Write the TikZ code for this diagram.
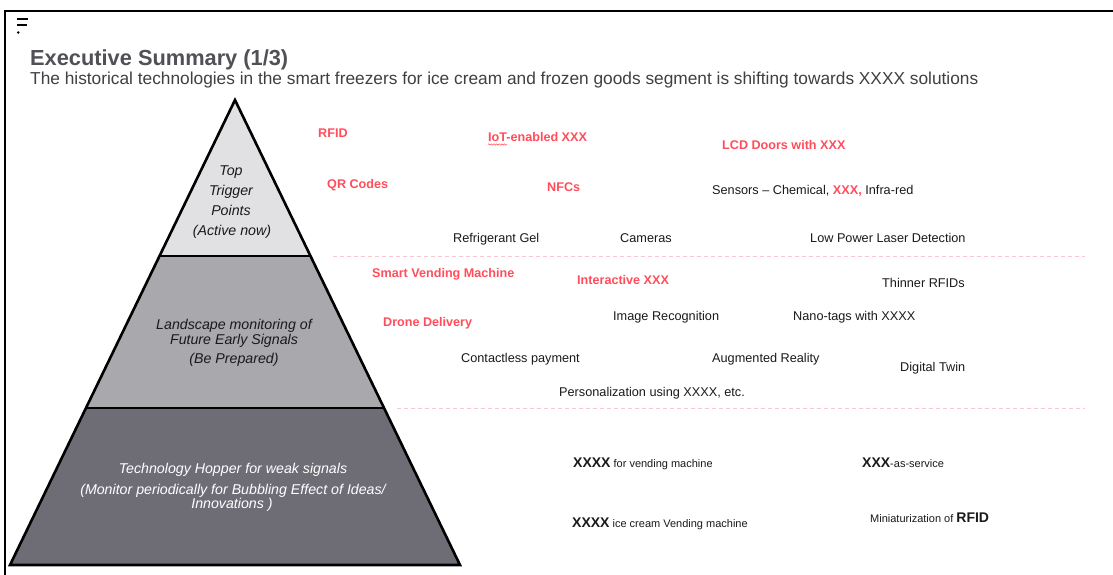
\documentclass[tikz,border=0pt]{standalone}
\usepackage{fontspec}
\setmainfont{Liberation Sans}
\usetikzlibrary{decorations.pathmorphing}
\definecolor{accent}{HTML}{FF4D5B}
\definecolor{ink}{HTML}{1A1A1A}
\definecolor{titlegray}{HTML}{505056}
\definecolor{subgray}{HTML}{404044}
\definecolor{tierA}{HTML}{E1E1E3}
\definecolor{tierB}{HTML}{A9A8AD}
\definecolor{tierC}{HTML}{6E6D76}
\definecolor{divider}{HTML}{F8C8D2}
\tikzset{
  item/.style={anchor=base west, inner sep=0pt, text=ink, font=\fontsize{12.7}{15}\selectfont},
  hot/.style={anchor=base west, inner sep=0pt, text=accent, font=\fontsize{12.6}{15}\selectfont\bfseries},
  small/.style={anchor=base west, inner sep=0pt, text=ink, font=\fontsize{11}{13}\selectfont},
  tierlabel/.style={anchor=base, inner sep=0pt, font=\fontsize{14.2}{17}\selectfont\itshape},
  tieredge/.style={line width=2.6pt, line join=miter},
  sepline/.style={divider, line width=0.8pt, dash pattern=on 4pt off 3pt},
}
\newcommand{\bigX}[1]{{\fontsize{14}{16}\selectfont\bfseries #1}}
\begin{document}
\begin{tikzpicture}[x=1pt,y=-1pt]
\useasboundingbox (0,0) rectangle (1113,575);
\fill[white] (0,0) rectangle (1113,575);

% slide frame
\draw[line width=2pt] (5,575) -- (5,11) -- (1113,11);

% menu glyph
\draw[line width=2pt] (17,19) -- (28,19);
\draw[line width=2pt] (17,25.5) -- (27,25.5);
\fill (18.2,32.5) circle (1.4);

% heading
\node[anchor=base west, inner sep=0pt, text=titlegray, font=\fontsize{21.8}{24}\selectfont\bfseries] (title) at (30,66) {Executive Summary (1/3)};
\node[anchor=base west, inner sep=0pt, text=subgray, font=\fontsize{17.3}{20}\selectfont] (subtitle) at (30,85) {The historical technologies in the smart freezers for ice cream and frozen goods segment is shifting towards XXXX solutions};

% pyramid geometry
\coordinate (apex) at (235,100);
\coordinate (bl) at (10,565);
\coordinate (br) at (460,565);
\coordinate (m1l) at (159.5,256);
\coordinate (m1r) at (310.5,256);
\coordinate (m2l) at (86,408);
\coordinate (m2r) at (384,408);

\fill[tierC] (m2l) -- (m2r) -- (br) -- (bl) -- cycle;
\fill[tierB] (m1l) -- (m1r) -- (m2r) -- (m2l) -- cycle;
\fill[tierA] (apex) -- (m1r) -- (m1l) -- cycle;
\draw[tieredge] (m1l) -- (m1r);
\draw[tieredge] (m2l) -- (m2r);
\draw[tieredge] (apex) -- (br) -- (bl) -- cycle;

% tier labels
\node[tierlabel, text=ink] (t1a) at (231,175) {Top};
\node[tierlabel, text=ink] (t1b) at (231,195) {Trigger};
\node[tierlabel, text=ink] (t1c) at (231,215) {Points};
\node[tierlabel, text=ink] (t1d) at (232,235) {(Active now)};
\node[tierlabel, text=ink] (t2a) at (234,329) {Landscape monitoring of};
\node[tierlabel, text=ink] (t2b) at (234,344) {Future Early Signals};
\node[tierlabel, text=ink] (t2c) at (234,363) {(Be Prepared)};
\node[tierlabel, text=white] (t3a) at (233,473) {Technology Hopper for weak signals};
\node[tierlabel, text=white] (t3b) at (233,494) {(Monitor periodically for Bubbling Effect of Ideas/};
\node[tierlabel, text=white] (t3c) at (232,508) {Innovations )};

% tier separators
\coordinate (s1a) at (333,256);
\coordinate (s1b) at (1085,256);
\coordinate (s2a) at (397,408);
\coordinate (s2b) at (1085,408);
\draw[sepline] (s1a) -- (s1b);
\draw[sepline] (s2a) -- (s2b);

% tier 1 entries
\node[hot] (rfid) at (318,137.5) {RFID};
\node[hot] (iot) at (488,141.5) {IoT-enabled XXX};
\draw[accent, line width=0.5pt, decorate, decoration={snake, amplitude=0.7pt, segment length=2.6pt}] (488,144.5) -- (507,144.5);
\node[hot] (lcd) at (722,149.5) {LCD Doors with XXX};
\node[hot] (qr) at (327,188.5) {QR Codes};
\node[hot] (nfc) at (547,191.5) {NFCs};
\node[item] (sensors) at (712,194.5) {Sensors -- Chemical, {\bfseries\color{accent}XXX,} Infra-red};
\node[item] (gel) at (453,242.5) {Refrigerant Gel};
\node[item] (cam) at (620,242.5) {Cameras};
\node[item] (laser) at (810,242.5) {Low Power Laser Detection};

% tier 2 entries
\node[hot] (vend) at (372,277.5) {Smart Vending Machine};
\node[hot] (inter) at (577,284.5) {Interactive XXX};
\node[item] (thin) at (882,287.5) {Thinner RFIDs};
\node[hot] (drone) at (383,326.5) {Drone Delivery};
\node[item] (image) at (613,320.5) {Image Recognition};
\node[item] (nano) at (793,320.5) {Nano-tags with XXXX};
\node[item] (pay) at (461,362.5) {Contactless payment};
\node[item] (ar) at (712,362.5) {Augmented Reality};
\node[item] (twin) at (900,371.5) {Digital Twin};
\node[item] (perso) at (559,396.5) {Personalization using XXXX, etc.};

% tier 3 entries
\node[small] (xvend) at (573,467) {\bigX{XXXX} for vending machine};
\node[small] (xaas) at (862,467) {\bigX{XXX}-as-service};
\node[small] (xice) at (572,527) {\bigX{XXXX} ice cream Vending machine};
\node[small] (mini) at (870,522) {Miniaturization of \bigX{RFID}};
\end{tikzpicture}
\end{document}
